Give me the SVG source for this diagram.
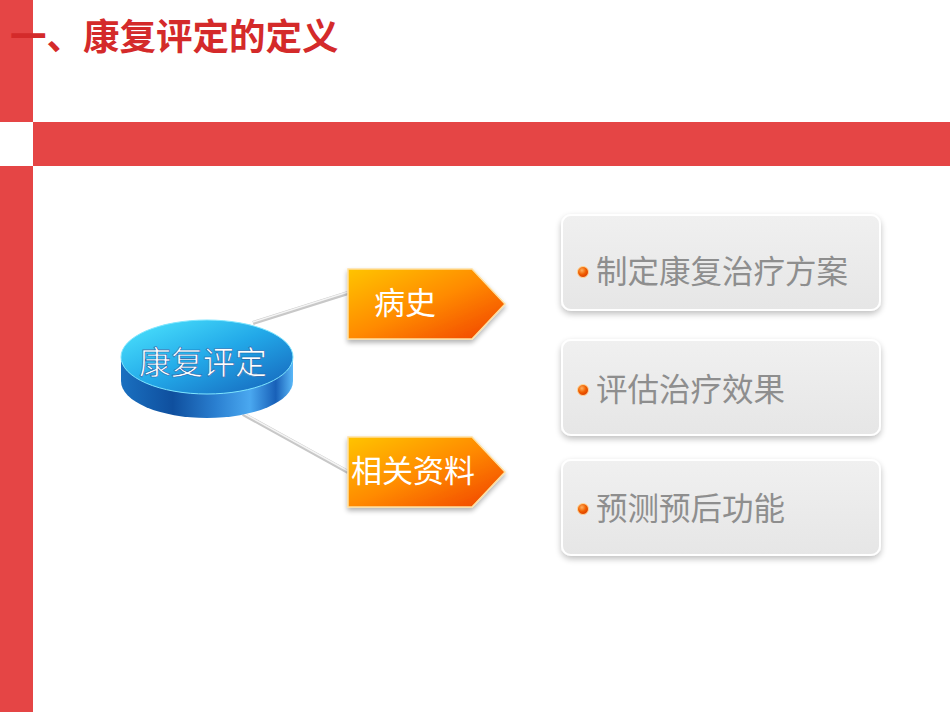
<svg xmlns="http://www.w3.org/2000/svg" width="950" height="713" viewBox="0 0 950 713">
<defs>
<style>
.red{fill:#E54545}
.title{font-family:"Liberation Sans","Noto Sans CJK SC",sans-serif;font-weight:bold;font-size:36.5px;fill:#D42A2A}
.arrowtxt{font-family:"Noto Sans CJK SC",sans-serif;font-size:31px;fill:#FFFFFF;text-anchor:middle}
.boxtxt{font-family:"Noto Sans CJK SC",sans-serif;font-size:31.5px;fill:#8E8E8E}
.conn{stroke:#C8C8C8;stroke-width:4;fill:none}
.connhi{stroke:#F4F4F4;stroke-width:1.5;fill:none}
.gbox{fill:url(#gboxg);stroke:#FFFFFF;stroke-width:2;filter:url(#shadow)}
.arrow{fill:url(#orangeg);stroke:#FFE0A0;stroke-width:1.5;filter:url(#shadow2)}
</style>
<linearGradient id="orangeg" x1="0" y1="0" x2="1" y2="1">
<stop offset="0" stop-color="#FFC400"/>
<stop offset="0.5" stop-color="#FF8A00"/>
<stop offset="1" stop-color="#F04000"/>
</linearGradient>
<linearGradient id="gboxg" x1="0" y1="0" x2="0" y2="1">
<stop offset="0" stop-color="#F0F0F0"/>
<stop offset="1" stop-color="#E6E6E6"/>
</linearGradient>
<linearGradient id="cyltop" x1="0" y1="0" x2="1" y2="1">
<stop offset="0" stop-color="#4FE8FF"/>
<stop offset="0.5" stop-color="#22A8E8"/>
<stop offset="1" stop-color="#1560B8"/>
</linearGradient>
<linearGradient id="cylside" x1="0" y1="0" x2="1" y2="0">
<stop offset="0" stop-color="#1A70C0"/>
<stop offset="0.3" stop-color="#0F4F9E"/>
<stop offset="0.55" stop-color="#2A7FD0"/>
<stop offset="0.75" stop-color="#4AA8F0"/>
<stop offset="0.9" stop-color="#1860B8"/>
<stop offset="1" stop-color="#5AB8F8"/>
</linearGradient>
<radialGradient id="bullet" cx="0.4" cy="0.35" r="0.6">
<stop offset="0" stop-color="#FFB060"/>
<stop offset="0.6" stop-color="#F06000"/>
<stop offset="1" stop-color="#E04000"/>
</radialGradient>
<filter id="shadow" x="-10%" y="-20%" width="120%" height="150%">
<feGaussianBlur in="SourceAlpha" stdDeviation="3"/>
<feOffset dy="3" result="b"/>
<feComponentTransfer><feFuncA type="linear" slope="0.25"/></feComponentTransfer>
<feMerge><feMergeNode/><feMergeNode in="SourceGraphic"/></feMerge>
</filter>
<filter id="shadow2" x="-10%" y="-20%" width="120%" height="150%">
<feGaussianBlur in="SourceAlpha" stdDeviation="2.5"/>
<feOffset dy="3"/>
<feComponentTransfer><feFuncA type="linear" slope="0.3"/></feComponentTransfer>
<feMerge><feMergeNode/><feMergeNode in="SourceGraphic"/></feMerge>
</filter>
</defs>
<rect width="950" height="713" fill="#FFFFFF"/>
<g id="frame">
<rect class="red" x="0" y="0" width="33" height="122"/>
<rect class="red" x="0" y="166" width="33" height="546"/>
<rect class="red" x="33" y="122" width="917" height="44"/>
</g>
<g id="title">
<text class="title" x="10" y="50">一、康复评定的定义</text>
</g>
<g id="connectors">
<line class="conn" x1="253" y1="323" x2="348" y2="293"/>
<line class="connhi" x1="253" y1="322" x2="348" y2="292"/>
<line class="conn" x1="243" y1="414" x2="348" y2="472"/>
<line class="connhi" x1="243" y1="413" x2="348" y2="471"/>
</g>
<g id="center">
<path d="M121,357 L121,381 A86,37 0 0 0 293,381 L293,357 Z" fill="url(#cylside)"/>
<ellipse cx="207" cy="357" rx="86" ry="37" fill="url(#cyltop)" stroke="#7FE6FF" stroke-width="1"/>
<text x="203" y="374" font-family="Noto Sans CJK SC,sans-serif" font-size="32" fill="#FFFFFF" text-anchor="middle" stroke="#1A5FA8" stroke-width="0.6">康复评定</text>
</g>
<g id="node-bingshi">
<path class="arrow" d="M348,269 L472,269 L505,304 L472,339 L348,339 Z"/>
<text class="arrowtxt" x="405" y="314">病史</text>
</g>
<g id="node-ziliao">
<path class="arrow" d="M348,437 L472,437 L505,472 L472,507 L348,507 Z"/>
<text class="arrowtxt" x="413" y="482">相关资料</text>
</g>
<g id="box1">
<rect class="gbox" x="562" y="215" width="318" height="95" rx="9"/>
<circle cx="583" cy="272" r="5.5" fill="url(#bullet)" stroke="#FFD89A" stroke-width="1"/>
<text class="boxtxt" x="596" y="283">制定康复治疗方案</text>
</g>
<g id="box2">
<rect class="gbox" x="562" y="340" width="318" height="95" rx="9"/>
<circle cx="583" cy="390" r="5.5" fill="url(#bullet)" stroke="#FFD89A" stroke-width="1"/>
<text class="boxtxt" x="596" y="401">评估治疗效果</text>
</g>
<g id="box3">
<rect class="gbox" x="562" y="460" width="318" height="95" rx="9"/>
<circle cx="583" cy="509" r="5.5" fill="url(#bullet)" stroke="#FFD89A" stroke-width="1"/>
<text class="boxtxt" x="596" y="520">预测预后功能</text>
</g>
</svg>
